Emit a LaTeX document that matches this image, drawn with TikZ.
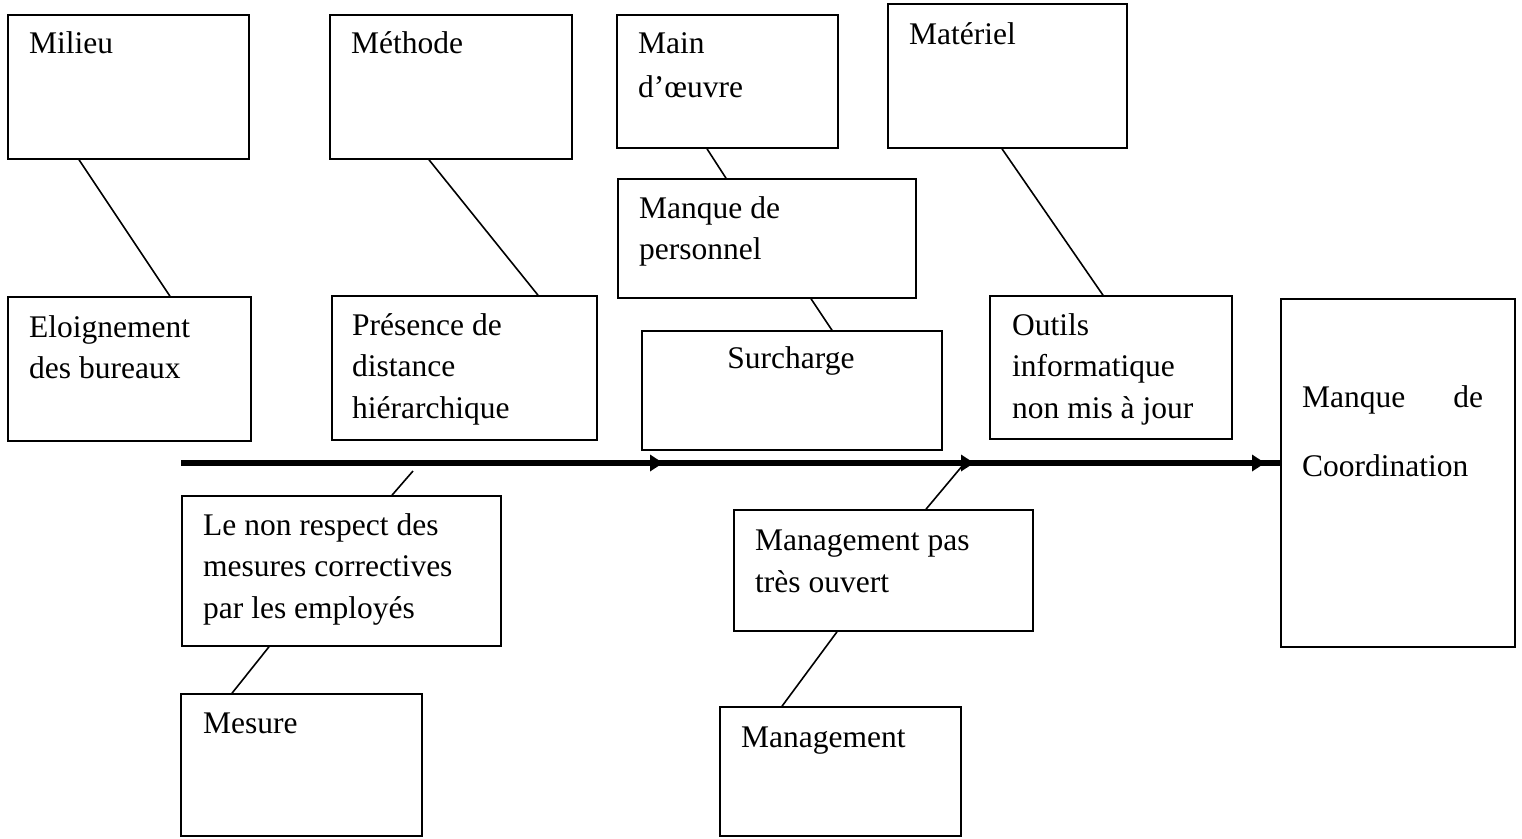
\documentclass[tikz,border=0pt]{standalone}
\usepackage{fontspec}
\setmainfont{Liberation Serif}
\newcommand\linesof[1]{\begin{tabular}[t]{@{}l@{}}#1\end{tabular}}
\begin{document}
\begin{tikzpicture}[x=1pt,y=-1pt,
  box/.style={draw, line width=1.6pt, rectangle, inner sep=0pt},
  link/.style={line width=1.6pt},
  spine/.style={line width=6pt},
  txt/.style={inner sep=0pt, anchor=base west, font=\fontsize{31.5}{41.5}\selectfont}]
\useasboundingbox[fill=white] (0,0) rectangle (1522,838);

% cause boxes: (left, top) corner plus size
\newcommand\mkbox[5]{\node[box, minimum width=#4, minimum height=#5] (#1) at (#2+#4/2, #3+#5/2) {};}
\mkbox{milieu}{8}{15}{241}{144}
\mkbox{methode}{330}{15}{242}{144}
\mkbox{main}{617}{15}{221}{133}
\mkbox{materiel}{888}{4}{239}{144}
\mkbox{personnel}{618}{179}{298}{119}
\mkbox{eloign}{8}{297}{243}{144}
\mkbox{presence}{332}{296}{265}{144}
\mkbox{surcharge}{642}{331}{300}{119}
\mkbox{outils}{990}{296}{242}{143}
\mkbox{effet}{1281}{299}{234}{348}
\mkbox{respect}{182}{496}{319}{150}
\mkbox{mgmtpas}{734}{510}{299}{121}
\mkbox{mesure}{181}{694}{241}{142}
\mkbox{mgmt}{720}{707}{241}{129}

% labels
\node[txt] (tmilieu) at (29,53) {Milieu};
\node[txt] (tmethode) at (351,53) {Méthode};
\node[txt] (tmain) at (638,53) {\linesof{Main\\[2.5pt] d’œuvre}};
\node[txt] (tmateriel) at (909,44) {Matériel};
\node[txt] (tpersonnel) at (639,218) {\linesof{Manque de\\ personnel}};
\node[txt] (teloign) at (29,337) {\linesof{Eloignement\\ des bureaux}};
\node[txt] (tpresence) at (352,335) {\linesof{Présence de\\ distance\\ hiérarchique}};
\node[txt, anchor=base] (tsurcharge) at (791,368) {Surcharge};
\node[txt] (toutils) at (1012,335) {\linesof{Outils\\ informatique\\ non mis à jour}};
\node[txt] (teffet) at (1302,407) {\linesof{\makebox[181pt][l]{Manque\hfill de}\\[27.5pt] Coordination}};
\node[txt] (trespect) at (203,535) {\linesof{Le non respect des\\ mesures correctives\\ par les employés}};
\node[txt] (tmesure) at (203,733) {Mesure};
\node[txt] (tmgmtpas) at (755,550) {\linesof{Management pas\\[0.5pt] très ouvert}};
\node[txt] (tmgmt) at (741,747) {Management};

% main spine with its three arrowheads
\coordinate (tail) at (181,463);
\draw[spine] (tail) -- (effet.west |- tail);
\coordinate (h1) at (663,463);
\coordinate (h2) at (974,463);
\coordinate (h3) at (1265,463);
\foreach \h in {h1,h2,h3}
  \fill (\h) -- ++(-13,-8.5) -- ++(0,17) -- cycle;

% branches
\draw[link] (79,0 |- milieu.south) -- (170,0 |- eloign.north);
\draw[link] (429,0 |- methode.south) -- (538,0 |- presence.north);
\draw[link] (707,0 |- main.south) -- (726,0 |- personnel.north);
\draw[link] (811,0 |- personnel.south) -- (832,0 |- surcharge.north);
\draw[link] (1002,0 |- materiel.south) -- (1103,0 |- outils.north);
\coordinate (j1) at (413,471);
\draw[link] (j1) -- (392,0 |- respect.north);
\draw[link] (269,0 |- respect.south) -- (232,0 |- mesure.north);
\coordinate (j2) at (963,465);
\draw[link] (j2) -- (926,0 |- mgmtpas.north);
\draw[link] (837,0 |- mgmtpas.south) -- (782,0 |- mgmt.north);
\end{tikzpicture}
\end{document}
